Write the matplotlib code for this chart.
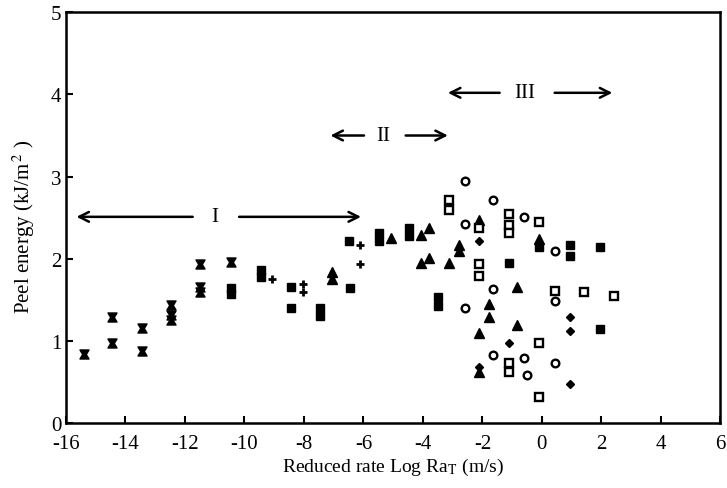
import matplotlib
matplotlib.use("Agg")
import matplotlib.pyplot as plt
from matplotlib.path import Path

plt.rcParams['font.family'] = ['Liberation Serif', 'DejaVu Serif']
plt.rcParams['mathtext.fontset'] = 'stix'

# ---- data ----
bowtie_x = [-15.38, -14.44, -14.44, -13.44, -13.44, -12.46, -12.46, -12.46, -11.49, -11.49, -11.49, -10.46]
bowtie_y = [0.84, 1.29, 0.98, 1.16, 0.88, 1.44, 1.32, 1.26, 1.94, 1.66, 1.59, 1.96]

fsq_x = [-10.46, -10.46, -9.46, -9.46, -8.42, -8.42, -7.47, -7.47, -6.47, -6.44,
         -5.46, -5.46, -4.48, -4.48, -3.48, -3.48, -1.11, -0.11, 0.93, 0.93, 1.94, 1.94]
fsq_y = [1.57, 1.64, 1.78, 1.86, 1.66, 1.40, 1.30, 1.40, 2.22, 1.64,
         2.21, 2.31, 2.28, 2.38, 1.43, 1.53, 1.95, 2.14, 2.17, 2.03, 2.14, 1.14]

plus_x = [-9.08, -8.04, -8.04, -6.10, -6.10]
plus_y = [1.75, 1.60, 1.69, 2.17, 1.93]

tri_x = [-7.04, -7.04, -5.06, -4.06, -3.78, -4.06, -3.78, -3.11, -2.79, -2.79,
         -2.11, -0.83, -1.79, -1.79, -0.83, -2.11, -2.11, -0.11]
tri_y = [1.84, 1.75, 2.25, 2.29, 2.37, 1.95, 2.01, 1.95, 2.17, 2.09,
         2.47, 1.65, 1.45, 1.29, 1.19, 1.10, 0.62, 2.24]

circ_x = [-2.57, -2.57, -2.58, -1.64, -0.60, 0.44, -1.64, 0.44, -1.64, -0.60, 0.44, -0.49]
circ_y = [2.42, 1.40, 2.95, 2.71, 2.51, 2.10, 1.63, 1.49, 0.83, 0.79, 0.73, 0.59]

osq_x = [-3.11, -3.11, -2.11, -1.11, -1.11, -1.11, -0.11, -2.11, -2.11, 0.44, 1.41, 2.43,
         -0.11, -1.11, -1.11, -0.11]
osq_y = [2.71, 2.59, 2.37, 2.54, 2.41, 2.31, 2.45, 1.94, 1.79, 1.61, 1.59, 1.55,
         0.97, 0.73, 0.62, 0.32]

dia_x = [-2.11, 0.93, 0.93, -1.11, -2.11, 0.93]
dia_y = [2.21, 1.29, 1.12, 0.97, 0.68, 0.47]

# region arrows: (y, left tip, left line end, label x, right line start, right tip, label)
regions = [
    (2.51, -15.65, -11.74, -11.0, -10.18, -6.08, 'I'),
    (3.50, -7.11, -5.98, -5.35, -4.58, -3.16, 'II'),
    (4.02, -3.16, -1.42, -0.58, 0.43, 2.37, 'III'),
]

xticks = [-16, -14, -12, -10, -8, -6, -4, -2, 0, 2, 4, 6]
yticks = [0, 1, 2, 3, 4, 5]

# ---- figure ----
fig = plt.figure(figsize=(7.27, 4.89), dpi=100)
ax = fig.add_axes([0.0908, 0.1329, 0.9, 0.8399])

bowtie = Path([(-1, -1), (1, -1), (0.4, 0), (1, 1), (-1, 1), (-0.4, 0), (-1, -1)],
              [Path.MOVETO, Path.LINETO, Path.LINETO, Path.LINETO, Path.LINETO, Path.LINETO, Path.CLOSEPOLY])

ax.plot(bowtie_x, bowtie_y, ls='none', marker=bowtie, ms=6.5, color='black')
ax.plot(fsq_x, fsq_y, ls='none', marker='s', ms=5.5, color='black')
ax.plot(plus_x, plus_y, ls='none', marker='+', ms=6, mew=2, color='black')
ax.plot(tri_x, tri_y, ls='none', marker='^', ms=6.5, color='black')
ax.plot(circ_x, circ_y, ls='none', marker='o', ms=5.5, mfc='white', mec='black', mew=1.7)
ax.plot(osq_x, osq_y, ls='none', marker='s', ms=5.5, mfc='white', mec='black', mew=1.7)
ax.plot(dia_x, dia_y, ls='none', marker='D', ms=4.5, color='black')

aprops = dict(arrowstyle='->,head_length=0.7,head_width=0.35', lw=1.8, color='black',
              shrinkA=0, shrinkB=0)
for y, lt, le, lx, rs, rt, lab in regions:
    ax.annotate('', xy=(lt, y), xytext=(le, y), arrowprops=aprops)
    ax.annotate('', xy=(rt, y), xytext=(rs, y), arrowprops=aprops)
    ax.text(lx, y, lab, ha='center', va='center', fontsize=15)

ax.set_xlim(-16, 6)
ax.set_ylim(0, 5)
ax.set_xticks(xticks)
ax.set_yticks(yticks)
ax.set_xticklabels([str(t) for t in xticks])
ax.tick_params(direction='in', length=5, width=1.5, labelsize=15, top=False, right=False)
ax.tick_params(axis='x', pad=8)
for s in ax.spines.values():
    s.set_linewidth(1.8)

ax.set_xlabel('Reduced rate Log Ra$_{\\mathrm{T}}$ (m/s)', fontsize=14, labelpad=2)
ax.set_ylabel('Peel energy (kJ/m$^{\\,2}$ )', fontsize=15)
ax.yaxis.set_label_coords(-0.045, 0.48)

fig.savefig('out.png', dpi=100)
